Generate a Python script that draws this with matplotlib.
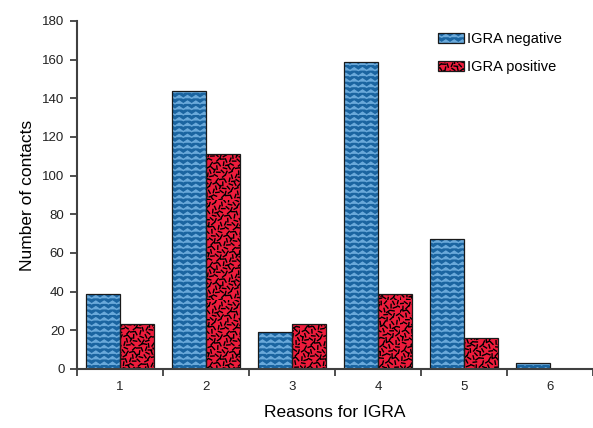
import warnings
import numpy as np
import matplotlib
matplotlib.use('Agg')
import matplotlib.pyplot as plt
from matplotlib import hatch as mhatch
from matplotlib.path import Path
from matplotlib.patches import Patch

warnings.filterwarnings('ignore')

reasons = ['1', '2', '3', '4', '5', '6']
igra_negative = [39, 144, 19, 159, 67, 3]
igra_positive = [23, 111, 23, 39, 16, 0]

BLUE = '#1a64a0'
ZIG = '#6aa9da'
RED = '#ee1c3c'


# custom hatch: horizontal zigzag lines ('z')
class ZigZag(mhatch.HatchPatternBase):
    def __init__(self, hatch, density):
        self.rows = hatch.count('z') * density
        self.waves = 12
        self.num_vertices = self.rows * (2 * self.waves + 1)

    def set_vertices_and_codes(self, vertices, codes):
        n = 2 * self.waves + 1
        xs = np.linspace(0, 1, n)
        amp = np.where(np.arange(n) % 2 == 1, 0.028, 0.0)
        for r in range(self.rows):
            y0 = (r + 0.3) / self.rows
            vertices[r * n:(r + 1) * n, 0] = xs
            vertices[r * n:(r + 1) * n, 1] = y0 + amp
            codes[r * n] = Path.MOVETO
            codes[r * n + 1:(r + 1) * n] = Path.LINETO


# custom hatch: short dashes at varying angles ('c')
class Confetti(mhatch.HatchPatternBase):
    def __init__(self, hatch, density):
        self.count = hatch.count('c') * density * 85
        self.num_vertices = 2 * self.count

    def set_vertices_and_codes(self, vertices, codes):
        i = np.arange(self.count)
        x = (0.5 + i * 0.7548776662) % 1
        y = (0.5 + i * 0.5698402910) % 1
        ang = ((i * 0.4142135624) % 1) * np.pi
        L = 0.017
        dx, dy = np.cos(ang) * L, np.sin(ang) * L
        vertices[0::2, 0] = x - dx
        vertices[0::2, 1] = y - dy
        vertices[1::2, 0] = x + dx
        vertices[1::2, 1] = y + dy
        codes[0::2] = Path.MOVETO
        codes[1::2] = Path.LINETO


mhatch._hatch_types.append(ZigZag)
mhatch._hatch_types.append(Confetti)

plt.rcParams['font.family'] = ['Liberation Sans', 'DejaVu Sans']
plt.rcParams['hatch.linewidth'] = 1.0

fig = plt.figure(figsize=(5.93, 4.28), dpi=100)
ax = fig.add_axes([0.130, 0.138, 0.870, 0.813])

x = np.arange(1, len(reasons) + 1)
w = 0.4

# hatched fill first (hatch takes edge colour), then black outline on top
ax.bar(x - w / 2, igra_negative, w, color=BLUE, edgecolor=ZIG, hatch='zzz', linewidth=0)
ax.bar(x + w / 2, igra_positive, w, color=RED, edgecolor='black', hatch='c', linewidth=0)
ax.bar(x - w / 2, igra_negative, w, fill=False, edgecolor='#1a1a1a', linewidth=0.9)
ax.bar(x + w / 2, [v if v > 0 else np.nan for v in igra_positive], w, fill=False,
       edgecolor='#1a1a1a', linewidth=0.9)

ax.set_xlim(0.5, len(reasons) + 0.5)
ax.set_ylim(0, 180)
ax.set_yticks(np.arange(0, 181, 20))
ax.set_xticks(x)
ax.set_xticklabels(reasons)
ax.set_xticks(np.arange(0.5, len(reasons) + 1, 1), minor=True)
ax.tick_params(axis='x', which='major', length=0, pad=9, labelsize=9.5, colors='#222222')
ax.tick_params(axis='x', which='minor', length=5, width=1.3, direction='out', color='#404040')
ax.tick_params(axis='y', length=5, width=1.3, direction='out', color='#404040',
               labelsize=9.5, labelcolor='#222222', pad=4)

for s in ['top', 'right']:
    ax.spines[s].set_visible(False)
for s in ['left', 'bottom']:
    ax.spines[s].set_color('#404040')
    ax.spines[s].set_linewidth(1.5)

ax.set_ylabel('Number of contacts', fontsize=12.5, labelpad=5)
ax.set_xlabel('Reasons for IGRA', fontsize=12.5, labelpad=8)

h_neg = (Patch(facecolor=BLUE, edgecolor=ZIG, hatch='zzz', linewidth=0),
         Patch(fill=False, edgecolor='#1a1a1a', linewidth=0.9))
h_pos = (Patch(facecolor=RED, edgecolor='black', hatch='c', linewidth=0),
         Patch(fill=False, edgecolor='#1a1a1a', linewidth=0.9))
ax.legend([h_neg, h_pos], ['IGRA negative', 'IGRA positive'], loc='upper left',
          bbox_to_anchor=(0.685, 0.99), frameon=False, fontsize=10.5,
          handlelength=1.8, handleheight=0.7, handletextpad=0.2, labelspacing=1.0,
          borderpad=0)

fig.savefig('out.png', dpi=100)
